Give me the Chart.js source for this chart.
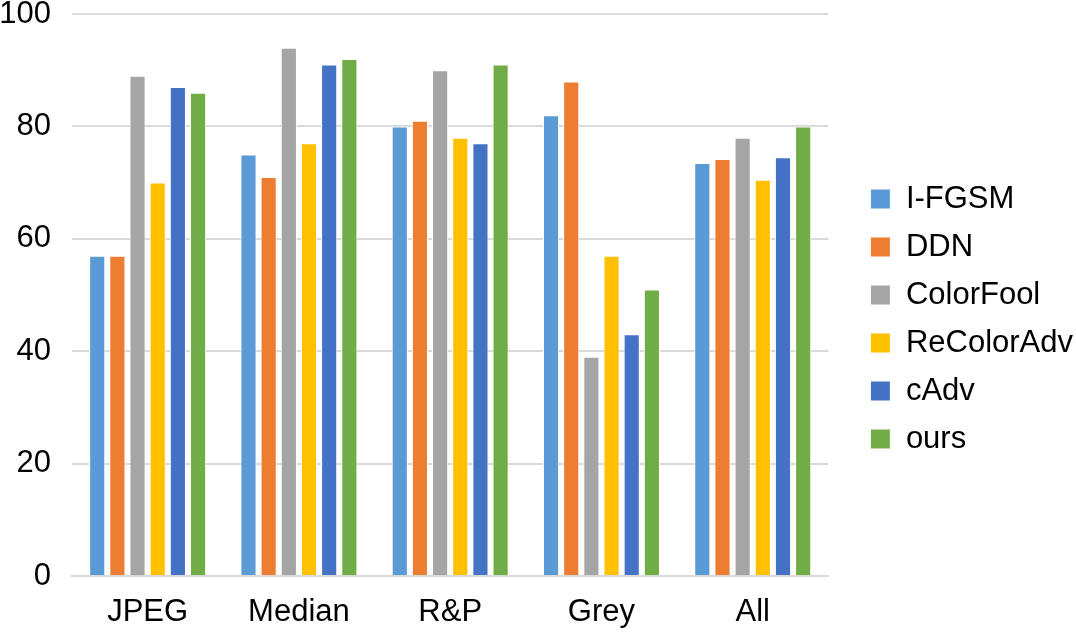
<!DOCTYPE html>
<html>
<head>
<meta charset="utf-8">
<script src="https://cdn.jsdelivr.net/npm/chart.js@4"></script>
<style>
    html, body { margin: 0; padding: 0; background: #fff; }
    #wrap { width: 1076px; height: 635px; }
</style>
</head>
<body>
<div id="wrap"><canvas id="grafico"></canvas></div>
<script>
// ---------------- DADOS ----------------
const categorias = ["JPEG", "Median", "R&P", "Grey", "All"];
const metodos = ["I-FGSM", "DDN", "ColorFool", "ReColorAdv", "cAdv", "ours"];

const iFgsm = [57, 75, 80, 82, 73.5];
const ddn = [57, 71, 81, 88, 74.2];
const colorFool = [89, 94, 90, 39, 78];
const reColorAdv = [70, 77, 78, 57, 70.5];
const cAdv = [87, 91, 77, 43, 74.5];
const ours = [86, 92, 91, 51, 80];

const yTicks = [0, 20, 40, 60, 80, 100];

const cores = ["#5B9BD5", "#ED7D31", "#A5A5A5", "#FFC000", "#4472C4", "#70AD47"];
const series = [iFgsm, ddn, colorFool, reColorAdv, cAdv, ours];

// espaço entre a área do gráfico e a legenda
const FOLGA = 18;

// empurra a legenda para a direita (e um pouco para baixo) depois do layout
const folgaLegenda = {
    id: "folgaLegenda",
    afterLayout(chart) {
        const leg = chart.legend;
        if (leg) {
            leg.left += 25;
            leg.right += 25;
            leg.top += 4;
            leg.bottom += 4;
        }
    }
};

// ---------------- GRÁFICO ----------------
Chart.defaults.font.family = "'Liberation Sans', Arial, sans-serif";
Chart.defaults.color = "#000";

new Chart(document.getElementById("grafico"), {
    type: "bar",
    data: {
        labels: categorias,
        datasets: series.map((valores, i) => ({
            label: metodos[i],
            data: valores,
            backgroundColor: cores[i],
            borderColor: "#ffffff",
            borderWidth: 1,
            barPercentage: 0.8,
            categoryPercentage: 0.8
        }))
    },
    plugins: [folgaLegenda],
    options: {
        responsive: true,
        maintainAspectRatio: false,
        animation: false,
        layout: { padding: { top: 0, left: 0, right: FOLGA, bottom: 5 } },
        plugins: {
            tooltip: { enabled: false },
            legend: {
                position: "right",
                align: "center",
                labels: {
                    boxWidth: 20,
                    boxHeight: 20,
                    padding: 17,
                    font: { size: 31 }
                }
            }
        },
        scales: {
            x: {
                grid: { display: false, drawTicks: false },
                border: { color: "#d9d9d9", width: 2 },
                ticks: { font: { size: 31 }, padding: 18 },
                afterFit: axis => { axis.height = 54; }
            },
            y: {
                min: 0,
                max: 100,
                afterBuildTicks: axis => {
                    axis.ticks = yTicks.map(v => ({ value: v }));
                },
                grid: { color: "#d9d9d9", lineWidth: 2, drawTicks: false },
                border: { display: false },
                ticks: { font: { size: 31 }, padding: 21 },
                afterFit: axis => {
                    axis.width = 72;
                    axis.paddingTop = 14;
                    axis.paddingBottom = 0;
                }
            }
        }
    }
});
</script>
</body>
</html>
